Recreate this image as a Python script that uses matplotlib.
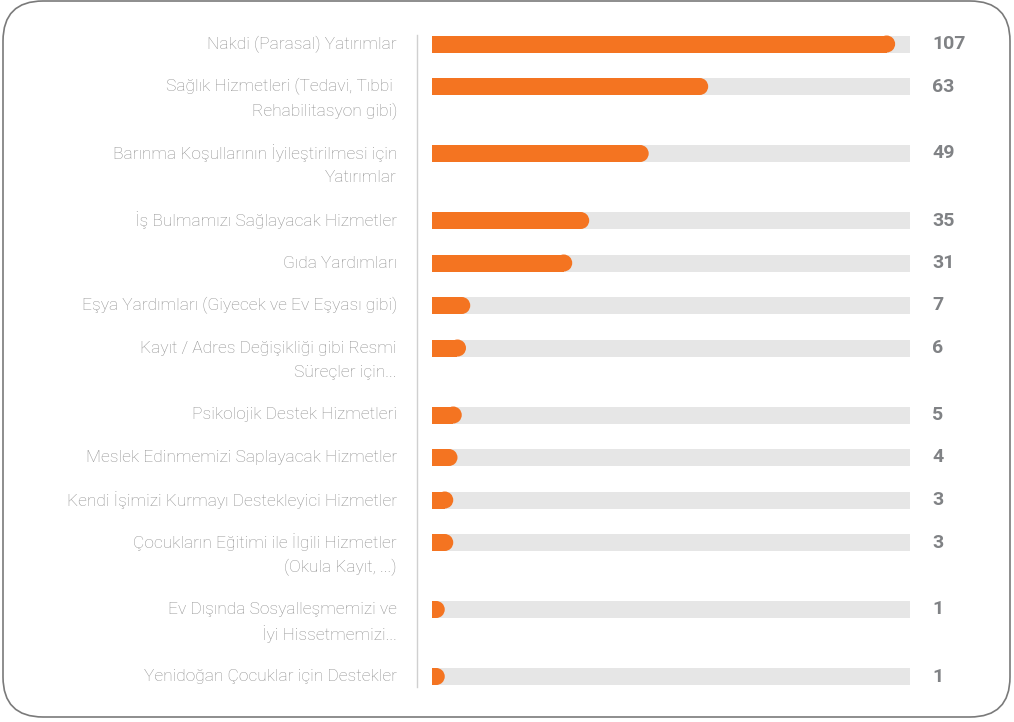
import matplotlib
matplotlib.use("Agg")
import matplotlib.pyplot as plt
from matplotlib.patches import FancyBboxPatch, Ellipse
from matplotlib.lines import Line2D
from matplotlib.transforms import IdentityTransform, blended_transform_factory

# data
labels = [
    "Nakdi (Parasal) Yatırımlar",
    "Sağlık Hizmetleri (Tedavi, Tıbbi \nRehabilitasyon gibi)",
    "Barınma Koşullarının İyileştirilmesi için\nYatırımlar",
    "İş Bulmamızı Sağlayacak Hizmetler",
    "Gıda Yardımları",
    "Eşya Yardımları (Giyecek ve Ev Eşyası gibi)",
    "Kayıt / Adres Değişikliği gibi Resmi\nSüreçler için...",
    "Psikolojik Destek Hizmetleri",
    "Meslek Edinmemizi Saplayacak Hizmetler",
    "Kendi İşimizi Kurmayı Destekleyici Hizmetler",
    "Çocukların Eğitimi ile İlgili Hizmetler\n(Okula Kayıt, ...)",
    "Ev Dışında Sosyalleşmemizi ve\nİyi Hissetmemizi...",
    "Yenidoğan Çocuklar için Destekler",
]
counts = [107, 63, 49, 35, 31, 7, 6, 5, 4, 3, 3, 1, 1]

ORANGE = "#F47421"
TRACK = "#E6E6E6"
LABEL_C = "#8F8F8F"
VALUE_C = "#808285"

W, H = 1014, 722
fig = plt.figure(figsize=(W / 100, H / 100), dpi=100)

# row positions (pixel units, top-down) from number of label lines
ys = []
y = 44
for lab in labels:
    ys.append(y)
    y += 42.5 + 24.5 * lab.count("\n")

ax_w = 478
ax = fig.add_axes([432 / W, 0, ax_w / W, 1])
xmax = 112.5
ax.set_xlim(0, xmax)
ax.set_ylim(H, 0)
ax.axis("off")

bar_h = 17
ax.barh(ys, [xmax] * len(ys), height=bar_h, color=TRACK, zorder=1)
ax.barh(ys, counts, height=bar_h, color=ORANGE, zorder=2)
# rounded caps: ellipse in data units that renders as a circle
cap_w = bar_h * xmax / ax_w
for v, yy in zip(counts, ys):
    ax.add_patch(Ellipse((v, yy), cap_w, bar_h, color=ORANGE, lw=0, zorder=3))

tr = blended_transform_factory(ax.transAxes, ax.transData)
for yy, lab, v in zip(ys, labels, counts):
    for i, line in enumerate(lab.split("\n")):
        ax.text(-35 / ax_w, yy + i * 24.5, line, transform=tr, ha="right", va="center",
                fontsize=12.5, color=LABEL_C, family="Roboto", fontweight="light",
                clip_on=False)
    ax.text(1 + 22 / ax_w, yy, str(v), transform=tr, ha="left", va="center",
            fontsize=14, fontweight="bold", color=VALUE_C, family="Roboto",
            clip_on=False)

# separator line and rounded frame
fig.add_artist(Line2D([417, 417], [H - 35, H - 687], color="#D0D0D0", lw=1,
                      transform=IdentityTransform()))
fig.add_artist(FancyBboxPatch((3, 5), 1007, 716, boxstyle="round,pad=0,rounding_size=40",
                              fill=False, ec="#7A7A7A", lw=1.2,
                              transform=IdentityTransform()))

fig.savefig("out.png", dpi=100)
